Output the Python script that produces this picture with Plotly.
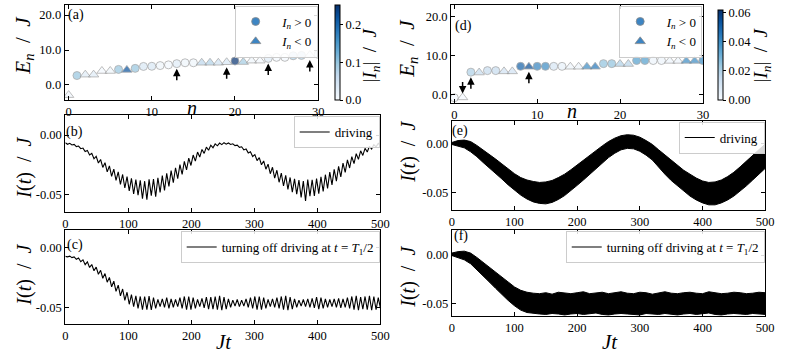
import numpy as np
import plotly.graph_objects as go

# ---------------- data ----------------
# panel (a): eigen-energies, signed current I_n (sign -> symbol, |I_n| -> colour)
n_a = list(range(31))
E_a = [-2.9, 2.7, 2.95, 2.95, 4.0, 4.0, 4.45, 4.3, 4.75, 5.3, 5.35, 5.55, 5.75, 6.1, 6.35, 6.35,
       6.35, 6.35, 6.35, 6.5, 6.85, 6.55, 6.95, 6.95, 7.6, 7.9, 7.9, 8.35, 8.45, 8.55, 8.75]
I_a = [-0.01, 0.10, -0.03, -0.03, -0.005, -0.01, 0.10, -0.22, 0.10, 0.04, 0.04, 0.01, 0.005, 0.03,
       0.01, 0.01, -0.07, -0.08, -0.05, -0.04, 0.25, -0.09, -0.01, -0.005, 0.03, 0.005, 0.005,
       0.08, 0.08, -0.02, 0.06]
arrows_a_up = [13, 19, 24, 29]

# panel (d)
n_d = list(range(31))
E_d = [-0.9, -0.8, 5.7, 5.6, 6.1, 6.1, 5.9, 5.9, 7.2, 7.1, 7.2, 7.2, 7.2, 7.2, 7.1, 7.1,
       7.1, 7.1, 7.9, 7.9, 7.8, 7.8, 8.7, 8.7, 8.7, 8.7, 8.6, 8.6, 8.6, 8.6, 8.7]
I_d = [0.001, -0.001, 0.02, -0.015, 0.015, 0.015, -0.012, -0.012, 0.05, -0.055, 0.042, 0.04,
       0.01, 0.005, -0.003, -0.003, -0.04, -0.045, 0.025, 0.025, -0.02, -0.018, 0.035, 0.035,
       0.003, 0.003, -0.003, -0.003, -0.04, -0.04, 0.04]
arrows_d_up = [2, 9]
arrows_d_down = [1]

# panel (b): current under driving, successive extrema (units of 1e-3 J)
I_b_milli = [
    -6.5, -7.7, -6.9, -8.3, -7.8, -9.6, -9.2, -11.4, -10.9, -13.8, -12.9, -16.6, -15.3, -19.8,
    -17.8, -23.3, -20.4, -27.0, -23.1, -30.7, -25.8, -34.4, -28.4, -37.9, -30.7, -41.2, -32.9, -44.2,
    -34.7, -46.6, -36.1, -49.2, -37.2, -50.1, -37.8, -53.0, -38.5, -54.0, -37.0, -50.6, -36.8, -51.5,
    -35.6, -47.9, -33.9, -46.2, -32.0, -42.9, -29.7, -39.8, -27.3, -36.4, -24.6, -32.8, -22.0, -29.1,
    -19.3, -25.4, -16.7, -21.8, -14.2, -18.4, -12.0, -15.3, -10.1, -12.7, -8.5, -10.6, -7.4, -9.0,
    -6.7, -8.0, -6.4, -7.6, -6.6, -7.9, -7.3, -8.8, -8.4, -10.3, -9.8, -12.4, -11.7, -14.9,
    -13.9, -17.9, -16.3, -21.3, -18.9, -24.8, -21.6, -28.5, -24.3, -32.3, -26.9, -35.9, -29.4, -39.4,
    -31.7, -42.5, -33.7, -45.3, -35.4, -47.6, -36.6, -49.3, -37.5, -52.0, -38.4, -55.0, -37.2, -51.0,
    -37.3, -50.8, -36.3, -48.9, -34.9, -47.0, -33.1, -44.5, -31.0, -41.6, -28.7, -38.4, -26.2, -34.9,
    -23.5, -31.2, -20.8, -27.5, -18.1, -23.8, -15.6, -20.3, -13.2, -17.0, -11.1, -14.1, -9.4, -11.7,
    -8.0, -9.8, -7.0, -8.5]

# panel (c): current after switching off the drive at T1/2 (units of 1e-3 J)
I_c_milli = [
    -7.6, -8.0, -7.4, -8.6, -8.0, -10.0, -9.0, -12.0, -10.5, -14.5, -12.2, -16.8, -14.4, -19.6,
    -16.5, -22.5, -19.2, -25.8, -21.9, -29.1, -25.1, -32.9, -28.3, -36.7, -31.5, -40.5, -34.8, -44.2,
    -37.5, -47.5, -39.5, -49.5, -40.5, -51.0, -41.0, -52.0, -41.0, -52.0, -40.7, -52.3, -42.0, -51.0,
    -43.5, -49.5, -43.0, -50.0, -42.0, -51.0, -43.0, -50.0, -43.5, -49.5, -42.0, -51.0, -41.0, -52.0,
    -41.0, -52.0, -42.0, -51.0, -43.5, -49.5, -42.5, -50.5, -41.5, -51.5, -41.5, -51.5, -41.0, -52.0,
    -40.5, -52.5, -41.5, -51.5, -43.0, -50.0, -44.0, -49.0, -43.5, -49.5, -44.0, -49.0, -43.0, -50.0,
    -42.0, -51.0, -41.0, -52.0, -41.0, -52.0, -42.0, -51.0, -43.5, -49.5, -43.0, -50.0, -42.0, -51.0,
    -41.0, -52.0, -40.5, -52.5, -41.5, -51.5, -43.0, -50.0, -44.0, -49.0, -43.5, -49.5, -43.0, -50.0,
    -42.5, -50.5, -41.5, -51.5, -42.0, -51.0, -43.0, -50.0, -43.5, -49.5, -43.0, -50.0, -42.5, -50.5,
    -43.0, -50.0, -42.0, -51.0, -41.0, -52.0, -40.5, -52.5, -41.5, -51.5, -41.0, -52.0, -40.5, -52.5,
    -41.0, -52.0, -42.0, -51.0]

# panels (e),(f): fast oscillation drawn as its envelope (units of 1e-3 J)
t_env_e = list(range(0, 501, 10))
up_e = [1.5, 3.5, 4.0, 2.5, -1.5, -6.0, -10.5, -15.5, -20.5, -26.0, -30.5, -34.5, -37.0, -38.5,
        -39.5, -39.0, -37.5, -34.5, -31.0, -26.5, -21.5, -16.5, -11.5, -6.5, -2.0, 2.5, 6.0, 8.5,
        9.5, 9.0, 7.0, 3.5, -0.5, -6.0, -11.5, -17.0, -22.0, -27.0, -31.0, -35.0, -38.0, -39.5,
        -39.0, -37.0, -33.5, -29.0, -23.5, -17.5, -12.0, -6.0, 0.0]
lo_e = [-0.5, -2.5, -4.0, -8.0, -13.0, -19.0, -24.5, -30.0, -36.0, -42.0, -47.5, -52.5, -56.5,
        -59.5, -61.0, -61.5, -60.0, -57.0, -53.0, -48.0, -42.5, -37.0, -31.0, -25.0, -19.5, -14.0,
        -9.5, -6.0, -4.5, -5.0, -7.5, -11.5, -16.5, -24.0, -31.0, -37.5, -43.0, -48.5, -53.5, -57.5,
        -60.5, -62.5, -62.5, -60.5, -57.5, -53.5, -48.5, -43.0, -37.0, -31.0, -25.0]

t_env_f = list(range(0, 501, 10))
up_f = [2.0, 3.5, 4.0, 2.0, -2.5, -7.5, -12.5, -17.5, -22.5, -28.0, -33.0, -36.5, -38.5, -39.5,
        -40.0, -39.0, -40.5, -38.5, -39.5, -40.0, -39.0, -38.0, -40.0, -39.5, -38.5, -40.0, -39.0,
        -38.0, -39.5, -40.0, -38.5, -39.0, -40.5, -39.0, -38.0, -39.5, -40.0, -39.0, -38.5, -39.5,
        -40.0, -38.0, -39.0, -40.0, -39.5, -38.5, -39.0, -40.0, -39.5, -38.5, -39.0]
lo_f = [-0.5, -2.5, -5.0, -9.0, -15.0, -21.5, -28.0, -34.5, -41.0, -47.0, -52.5, -57.0, -59.5,
        -60.5, -61.0, -61.5, -60.5, -61.0, -62.0, -61.0, -60.5, -61.5, -61.0, -60.0, -61.5, -62.0,
        -61.0, -60.5, -61.0, -61.5, -62.0, -60.5, -61.0, -61.5, -60.5, -61.0, -62.0, -61.0, -60.5,
        -61.5, -61.0, -60.0, -61.5, -62.0, -61.0, -60.5, -61.0, -61.5, -60.5, -61.0, -61.5]

# ---------------- helpers ----------------
W, H = 789, 361
SERIF = "Liberation Serif"
BLUES = ["#f7fbff", "#deebf7", "#c6dbef", "#9ecae1", "#6baed6", "#4292c6", "#2171b5", "#08519c", "#08306b"]
cscale = [[i / (len(BLUES) - 1), c] for i, c in enumerate(BLUES)]
LEG_BLUE = "#3d85c3"
SP = "&nbsp;&nbsp;"


def fx(p):
    return p / W


def fy(p):
    return 1 - p / H


fig = go.Figure()


def spectrum(n, E, I, xa, ya, cax, leg):
    sym = ["circle" if v > 0 else "triangle-up" for v in I]
    size = [8 if v > 0 else 9 for v in I]
    fig.add_trace(go.Scatter(
        x=n, y=E, mode="markers", xaxis=xa, yaxis=ya, showlegend=False, hoverinfo="skip",
        marker=dict(symbol=sym, size=size, color=[abs(v) for v in I], coloraxis=cax,
                    line=dict(color="#8a8a8a", width=0.8))))
    fig.add_trace(go.Scatter(x=[None], y=[None], mode="markers", xaxis=xa, yaxis=ya, legend=leg,
                             name="&nbsp;&nbsp;<i>I<sub>n</sub></i> &gt; 0",
                             marker=dict(symbol="circle", size=8, color=LEG_BLUE,
                                         line=dict(color="#8a8a8a", width=0.8))))
    fig.add_trace(go.Scatter(x=[None], y=[None], mode="markers", xaxis=xa, yaxis=ya, legend=leg,
                             name="&nbsp;&nbsp;<i>I<sub>n</sub></i> &lt; 0",
                             marker=dict(symbol="triangle-up", size=9, color=LEG_BLUE,
                                         line=dict(color="#8a8a8a", width=0.8))))


spectrum(n_a, E_a, I_a, "x", "y", "coloraxis", "legend")
spectrum(n_d, E_d, I_d, "x2", "y2", "coloraxis2", "legend2")


def tseries(vals, xa, ya, leg, name):
    v = np.array(vals) / 1000.0
    t = np.linspace(0, 500, len(v))
    fig.add_trace(go.Scatter(x=t, y=v, mode="lines", xaxis=xa, yaxis=ya, legend=leg, name=name,
                             line=dict(color="black", width=1.1)))


def band(t, up, lo, xa, ya, leg, name):
    fig.add_trace(go.Scatter(x=t, y=np.array(up) / 1000.0, mode="lines", xaxis=xa, yaxis=ya,
                             showlegend=False, line=dict(color="black", width=1)))
    fig.add_trace(go.Scatter(x=t, y=np.array(lo) / 1000.0, mode="lines", xaxis=xa, yaxis=ya,
                             showlegend=False, fill="tonexty", fillcolor="black",
                             line=dict(color="black", width=1)))
    fig.add_trace(go.Scatter(x=[None], y=[None], mode="lines", xaxis=xa, yaxis=ya, legend=leg,
                             name=name, line=dict(color="black", width=1.1)))


OFF = "turning off driving at <i>t</i> = <i>T</i><sub>1</sub>/2"
tseries(I_b_milli, "x3", "y3", "legend3", "driving")
band(t_env_e, up_e, lo_e, "x4", "y4", "legend4", "driving")
tseries(I_c_milli, "x5", "y5", "legend5", OFF)
band(t_env_f, up_f, lo_f, "x6", "y6", "legend6", OFF)

# ---------------- axes ----------------
ax_common = dict(showline=True, linecolor="black", linewidth=1, mirror="allticks", ticks="inside",
                 ticklen=4, tickcolor="black", showgrid=False, zeroline=False,
                 tickfont=dict(family=SERIF, size=12.5, color="black"))

boxes = {  # name: (x0, x1, ytop, ybottom) in pixels
    "1": (62.7, 320, 5, 100),
    "2": (455, 710.7, 5, 103),
    "3": (63.3, 383.3, 115, 212),
    "4": (455.7, 774, 120.7, 210),
    "5": (63.3, 383.3, 230, 324.3),
    "6": (455.7, 774, 230, 316),
}
layout = {}
for k, (x0, x1, yt, yb) in boxes.items():
    s = "" if k == "1" else k
    layout["xaxis" + s] = dict(ax_common, domain=[fx(x0), fx(x1)], anchor="y" + s)
    layout["yaxis" + s] = dict(ax_common, domain=[fy(yb), fy(yt)], anchor="x" + s)

layout["xaxis"].update(range=[-0.47, 30], tickvals=[0, 10, 20, 30])
layout["xaxis2"].update(range=[-0.39, 30], tickvals=[0, 10, 20, 30])
layout["yaxis"].update(range=[-4.29, 22.86], tickvals=[0, 10, 20], ticktext=["0.0", "10.0", "20.0"])
layout["yaxis2"].update(range=[-2.24, 23.0], tickvals=[0, 10, 20], ticktext=["0.0", "10.0", "20.0"])
tv = [0, 100, 200, 300, 400, 500]
for s in ["3", "4", "5", "6"]:
    layout["xaxis" + s].update(range=[0, 500], tickvals=tv)
    layout["yaxis" + s].update(tickvals=[-0.05, 0.0], ticktext=["-0.05", "0.00"])
layout["yaxis3"].update(range=[-0.0642, 0.0167])
layout["yaxis4"].update(range=[-0.0678, 0.0239])
layout["yaxis5"].update(range=[-0.0642, 0.0144])
layout["yaxis6"].update(range=[-0.0631, 0.0259])

cb_common = dict(thickness=4.5, thicknessmode="pixels", lenmode="pixels", xanchor="left",
                 yanchor="middle", xpad=0, ypad=0, outlinecolor="black", outlinewidth=1,
                 ticks="outside", ticklen=3, tickcolor="black",
                 tickfont=dict(family=SERIF, size=12.5, color="black"))
layout["coloraxis"] = dict(colorscale=cscale, cmin=0, cmax=0.253,
                           colorbar=dict(cb_common, x=fx(337), y=fy(52.5), len=95,
                                         tickvals=[0, 0.1, 0.2], ticktext=["0.0", "0.1", "0.2"]))
layout["coloraxis2"] = dict(colorscale=cscale, cmin=0, cmax=0.0615,
                            colorbar=dict(cb_common, x=fx(726.5), y=fy(55), len=90,
                                          tickvals=[0, 0.02, 0.04, 0.06],
                                          ticktext=["0.00", "0.02", "0.04", "0.06"]))

leg_common = dict(bgcolor="rgba(255,255,255,0.85)", bordercolor="#cccccc", borderwidth=1,
                  font=dict(family=SERIF, size=13, color="black"), xanchor="right",
                  yanchor="top", tracegroupgap=0, itemwidth=30, traceorder="normal")
layout["legend"] = dict(leg_common, x=fx(319.5), y=fy(5.5))
layout["legend2"] = dict(leg_common, x=fx(710), y=fy(5.5))
layout["legend3"] = dict(leg_common, x=fx(382.5), y=fy(116))
layout["legend4"] = dict(leg_common, x=fx(773.5), y=fy(121.5))
layout["legend5"] = dict(leg_common, x=fx(382.5), y=fy(231))
layout["legend6"] = dict(leg_common, x=fx(773.5), y=fy(231))

# ---------------- annotations ----------------
ann = []


def text(x, y, s, size=17, angle=0):
    ann.append(dict(x=fx(x), y=fy(y), xref="paper", yref="paper", text=s, showarrow=False,
                    textangle=angle, font=dict(family=SERIF, size=size, color="black"),
                    xanchor="center", yanchor="middle"))


EN = "<i>E<sub>n</sub></i>" + SP + "/" + SP + "<i>J</i>"
IT = "<i>I</i>(<i>t</i>)" + SP + "/" + SP + "<i>J</i>"
CB = "|<i>I<sub>n</sub></i>|" + SP + "/" + SP + "<i>J</i>"
text(21, 45, EN, 21, -90)
text(411, 48, EN, 21, -90)
text(21, 168, IT, 20, -90)
text(411, 152, IT, 20, -90)
text(21, 275, IT, 20, -90)
text(411, 277, IT, 20, -90)
text(374, 55, CB, 19, -90)
text(771, 55, CB, 19, -90)
text(192, 108, "<i>n</i>", 20)
text(578, 111, "<i>n</i>", 20)
text(224, 342, "<i>Jt</i>", 21)
text(616, 342, "<i>Jt</i>", 21)
text(74.5, 15, "(a)", 14)
text(467.5, 26, "(d)", 14)
text(73, 132, "(b)", 14)
text(464.5, 131, "(e)", 14)
text(73, 245, "(c)", 14)
text(465, 236, "(f)", 14)


def arrow(xa, ya, x, y, ay, standoff):
    ann.append(dict(x=x, y=y, xref=xa, yref=ya, ax=0, ay=ay, text="", showarrow=True,
                    arrowhead=2, arrowsize=1, arrowwidth=1.5, arrowcolor="black",
                    standoff=standoff))


for k in arrows_a_up:
    arrow("x", "y", n_a[k], E_a[k], 18, 5)
for k in arrows_d_up:
    arrow("x2", "y2", n_d[k], E_d[k], 18, 5)
for k in arrows_d_down:
    arrow("x2", "y2", n_d[k], E_d[k], -17, 4)

fig.update_layout(**layout)
fig.update_layout(annotations=ann, width=W, height=H, autosize=False,
                  margin=dict(l=0, r=0, t=0, b=0), plot_bgcolor="white", paper_bgcolor="white",
                  font=dict(family=SERIF, color="black"), hovermode=False)

fig.write_html("out.html", config={"displayModeBar": False, "staticPlot": True},
               post_script="document.body.style.margin='0px';")
